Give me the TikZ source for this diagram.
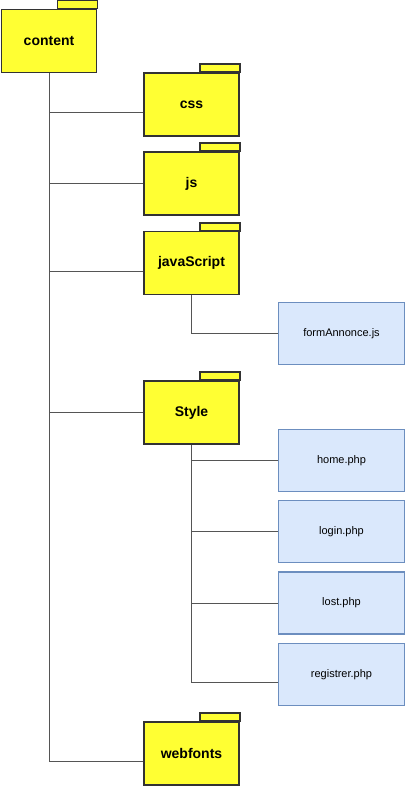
\documentclass[tikz,border=0pt]{standalone}
\usepackage{fontspec}
\setmainfont{Liberation Sans}
\usepackage{tikz}
\definecolor{folderfill}{HTML}{FFFF33}
\definecolor{folderline}{HTML}{333333}
\definecolor{filefill}{HTML}{DAE8FC}
\definecolor{fileline}{HTML}{6C8EBF}
\definecolor{linkgray}{HTML}{555555}
\tikzstyle{folder}=[rectangle,draw=folderline,fill=folderfill,line width=1.6pt,minimum width=95pt,minimum height=63pt,inner sep=0pt,font=\fontsize{14}{16}\selectfont\bfseries]
\tikzstyle{tab}=[draw=folderline,fill=folderfill,line width=1.6pt]
\tikzstyle{file}=[rectangle,draw=fileline,fill=filefill,line width=1.2pt,minimum width=126pt,minimum height=62pt,inner sep=0pt,font=\fontsize{11}{13}\selectfont]
\tikzstyle{link}=[draw=linkgray,line width=0.9pt]

\begin{document}
\begin{tikzpicture}[x=1pt,y=1pt]
    \useasboundingbox (0,0) rectangle (407,-789);
    % folders
    \node[folder] (content) at (49,-41) {content};
    \node[folder] (css) at (191.5,-104.5) {css};
    \node[folder] (js) at (191.5,-183.5) {js};
    \node[folder] (javaScript) at (191.5,-263) {javaScript};
    \node[folder] (Style) at (191.5,-412.5) {Style};
    \node[folder] (webfonts) at (191.5,-753.5) {webfonts};
    \foreach \f in {content,css,js,javaScript,Style,webfonts}
        \path[tab] ([xshift=-40pt]\f.north east) rectangle ++(40pt,8pt);
    % files
    \node[file] (formAnnonce) at (341.5,-333.5) {formAnnonce.js};
    \node[file] (home) at (341.5,-460.5) {home.php};
    \node[file] (login) at (341.5,-531.5) {login.php};
    \node[file] (lost) at (341.5,-603) {lost.php};
    \node[file] (registrer) at (341.5,-674.5) {registrer.php};
    % links
    \path[link] (content.south) |- ([yshift=-7.5pt]css.west)
        (content.south) |- (js.west)
        (content.south) |- ([yshift=-8pt]javaScript.west)
        (content.south) |- (Style.west)
        (content.south) |- ([yshift=-7.5pt]webfonts.west);
    \path[link] (javaScript.south) |- (formAnnonce.west);
    \path[link] (Style.south) |- (home.west)
        (Style.south) |- (login.west)
        (Style.south) |- (lost.west)
        (Style.south) |- ([yshift=-7.5pt]registrer.west);
\end{tikzpicture}
\end{document}
